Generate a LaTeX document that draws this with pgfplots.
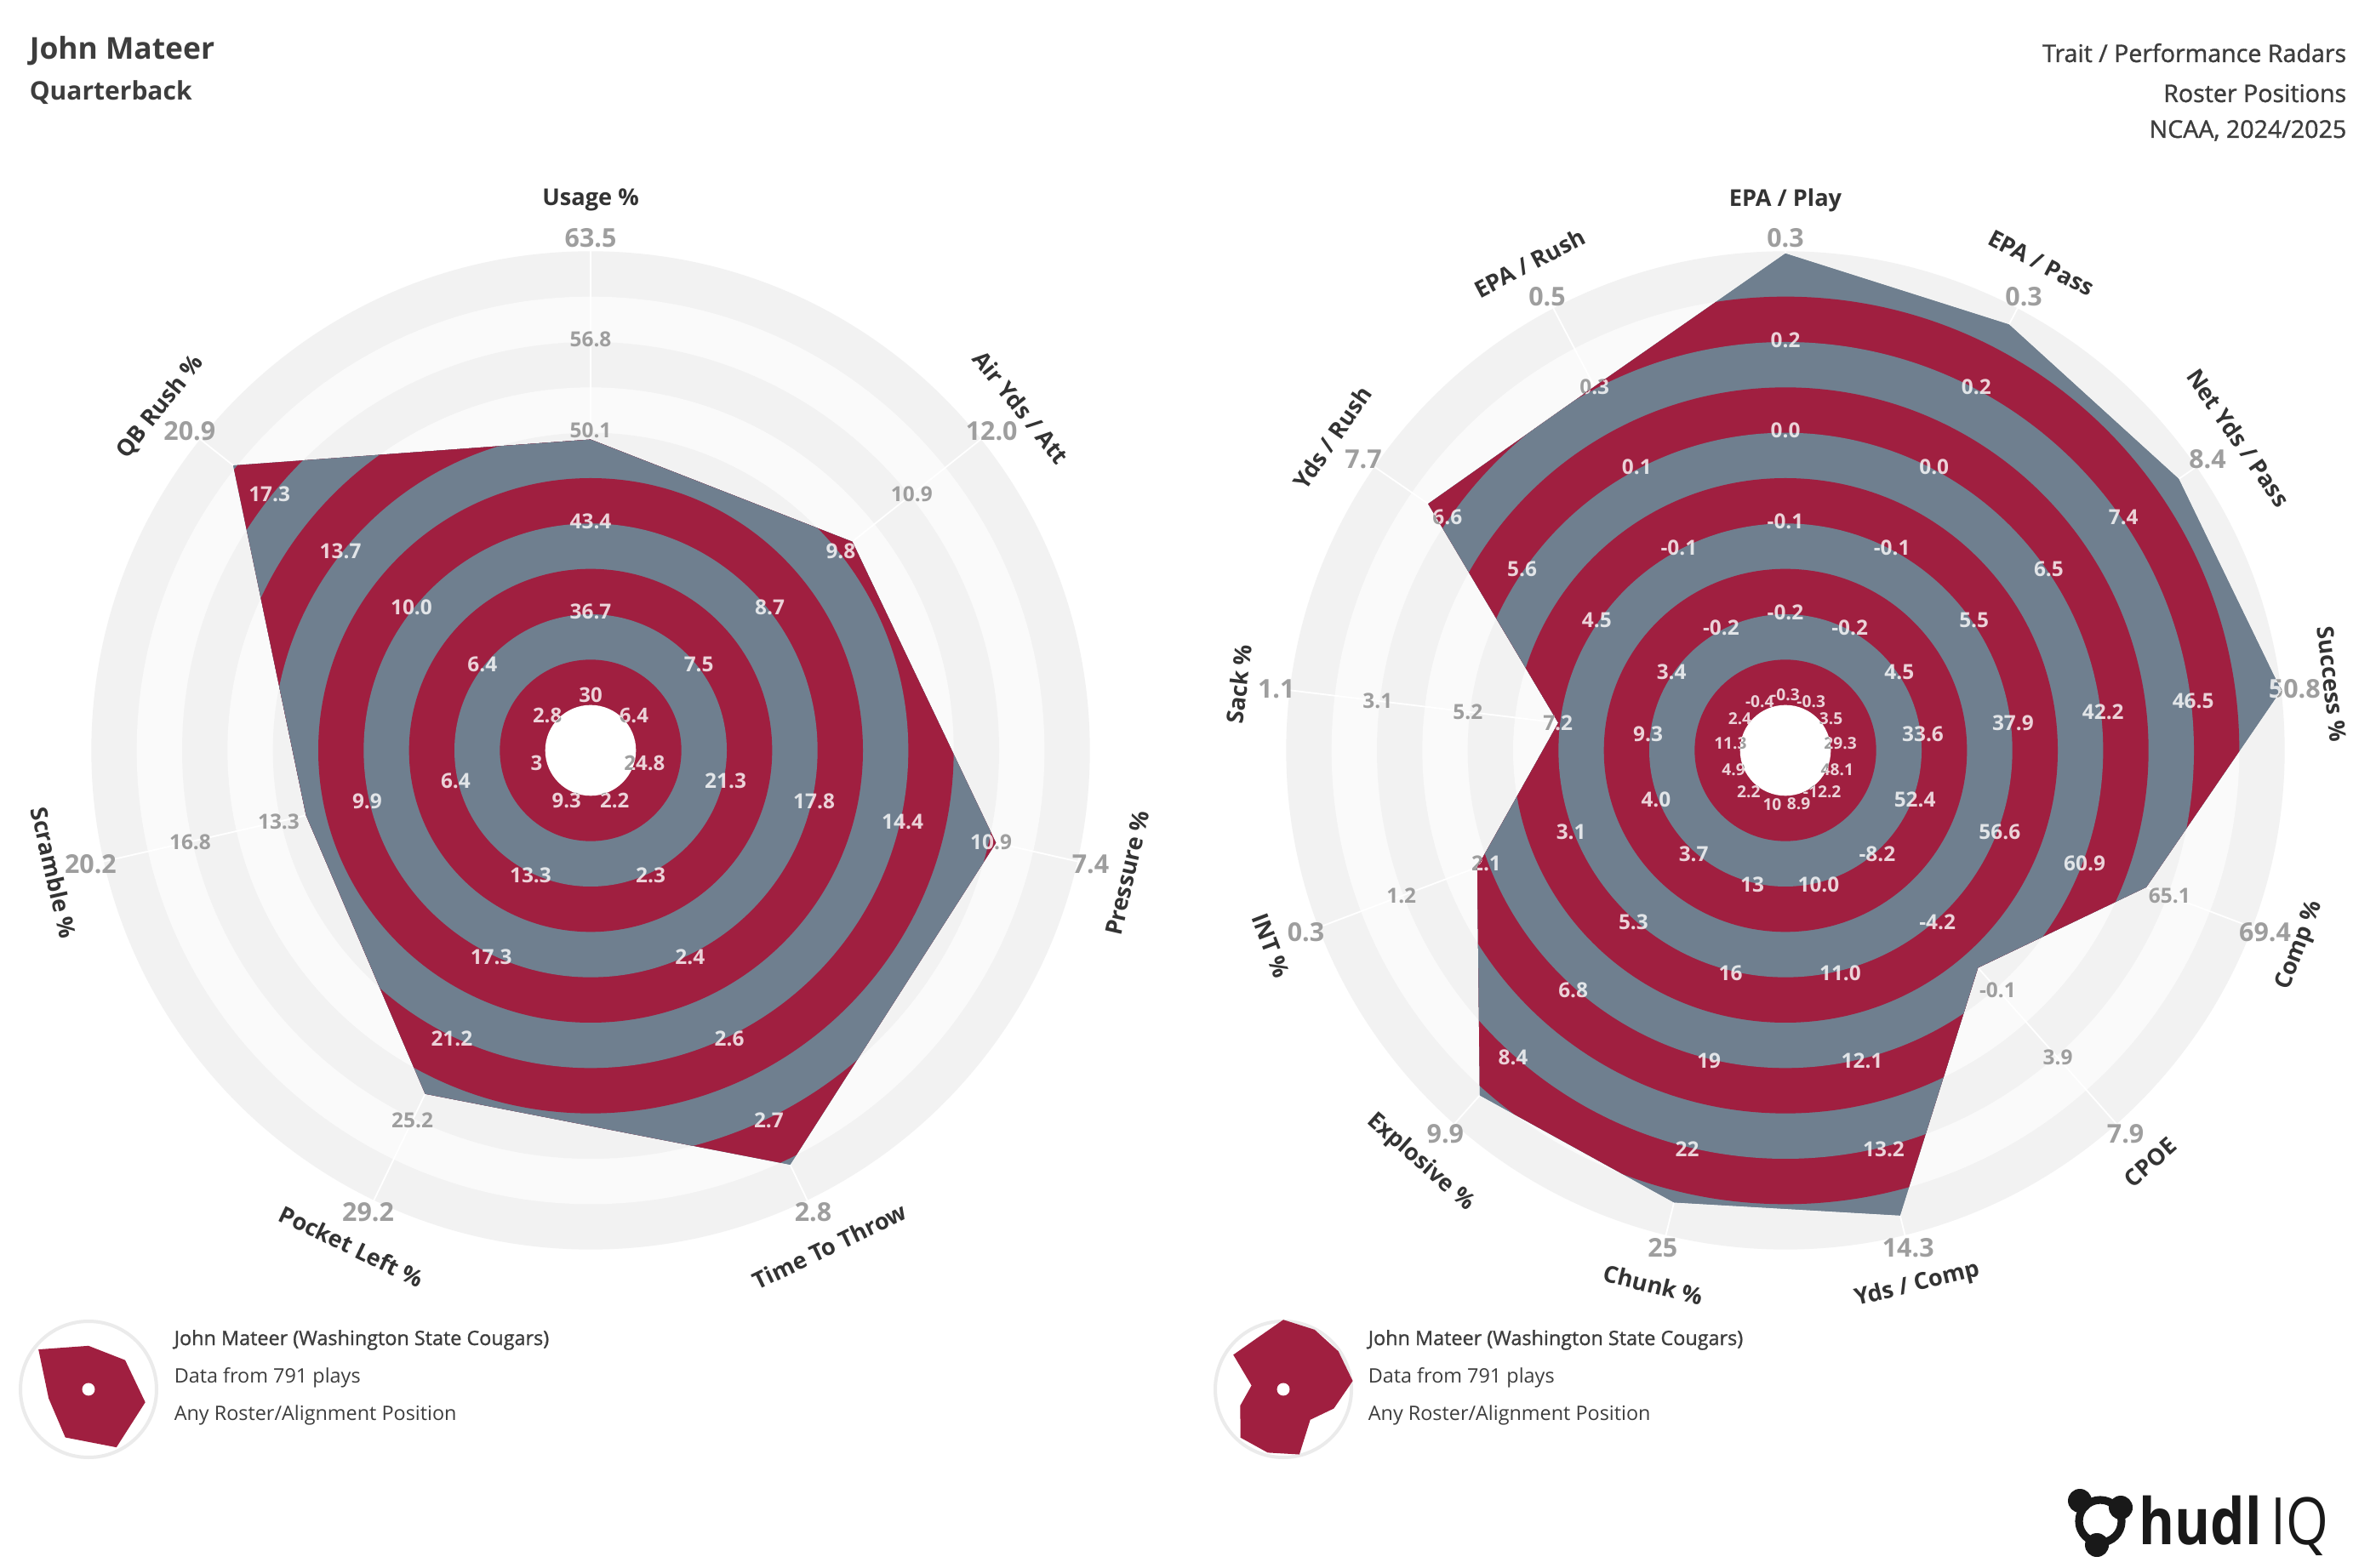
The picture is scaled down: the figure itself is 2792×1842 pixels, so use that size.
\documentclass[border=0pt]{standalone}
\usepackage{pgfplots}
\usepackage{pgfplotstable}
\pgfplotsset{compat=1.18}
\usepackage{fontspec}
\setmainfont{Open Sans}
\newfontfamily\medfont{Open Sans}[FakeBold=1.2]

\definecolor{rred}{HTML}{A01F40}
\definecolor{slate}{HTML}{6F7F8F}
\definecolor{bgA}{HTML}{F2F2F2}
\definecolor{bgB}{HTML}{FAFAFA}
\definecolor{tick}{HTML}{9E9E9E}
\definecolor{ttl}{HTML}{333333}
\definecolor{hdr}{HTML}{3D3D3D}
\definecolor{ring}{HTML}{EBEBEB}

% player values per radial axis: angle, value at inner ring, value at outer ring, player value
\pgfplotstableread{
ang lo hi val
90 30 63.5 49.6
38.571 6.4 12.0 9.97
-12.857 24.8 7.4 10.6
-64.286 2.2 2.8 2.748
-115.714 9.3 29.2 24.03
-167.143 3.0 20.2 12.34
141.429 2.8 20.9 19.22
}\leftdata

\pgfplotstableread{
ang lo hi val
90 -0.3 0.3 0.297
62.308 -0.3 0.3 0.276
34.615 3.5 8.4 8.17
6.923 29.3 50.8 50.8
-20.769 48.1 69.4 64.08
-48.462 -12.2 7.9 -1.35
-76.154 8.9 14.3 14.06
-103.846 10 25 23.89
-131.538 2.2 9.9 9.25
-159.231 4.9 0.3 2.02
173.077 11.3 1.1 7.18
145.385 2.4 7.7 6.94
117.692 -0.4 0.5 0.325
}\rightdata

\def\leftaxes{90/{Usage \%}/30/36.7/43.4/50.1/56.8/63.5,%
38.571/{Air Yds / Att}/6.4/7.5/8.7/9.8/10.9/12.0,%
-12.857/{Pressure \%}/24.8/21.3/17.8/14.4/10.9/7.4,%
-64.286/{Time To Throw}/2.2/2.3/2.4/2.6/2.7/2.8,%
-115.714/{Pocket Left \%}/9.3/13.3/17.3/21.2/25.2/29.2,%
-167.143/{Scramble \%}/3/6.4/9.9/13.3/16.8/20.2,%
141.429/{QB Rush \%}/2.8/6.4/10.0/13.7/17.3/20.9}

\def\rightaxes{90/{EPA / Play}/-0.3/-0.2/-0.1/0.0/0.2/0.3,%
62.308/{EPA / Pass}/-0.3/-0.2/-0.1/0.0/0.2/0.3,%
34.615/{Net Yds / Pass}/3.5/4.5/5.5/6.5/7.4/8.4,%
6.923/{Success \%}/29.3/33.6/37.9/42.2/46.5/50.8,%
-20.769/{Comp \%}/48.1/52.4/56.6/60.9/65.1/69.4,%
-48.462/{CPOE}/-12.2/-8.2/-4.2/-0.1/3.9/7.9,%
-76.154/{Yds / Comp}/8.9/10.0/11.0/12.1/13.2/14.3,%
-103.846/{Chunk \%}/10/13/16/19/22/25,%
-131.538/{Explosive \%}/2.2/3.7/5.3/6.8/8.4/9.9,%
-159.231/{INT \%}/4.9/4.0/3.1/2.1/1.2/0.3,%
173.077/{Sack \%}/11.3/9.3/7.2/5.2/3.1/1.1,%
145.385/{Yds / Rush}/2.4/3.4/4.5/5.6/6.6/7.7,%
117.692/{EPA / Rush}/-0.4/-0.2/-0.1/0.1/0.3/0.5}

% build a clip path from a data table
\newcommand\buildpath[5]{%
  \pgfplotstablegetrowsof{#1}%
  \pgfmathtruncatemacro\lastrow{\pgfplotsretval-1}%
  \gdef#5{}%
  \pgfplotsforeachungrouped \ii in {0,...,\lastrow}{%
    \pgfplotstablegetelem{\ii}{ang}\of{#1}\let\tA\pgfplotsretval
    \pgfplotstablegetelem{\ii}{lo}\of{#1}\let\tL\pgfplotsretval
    \pgfplotstablegetelem{\ii}{hi}\of{#1}\let\tH\pgfplotsretval
    \pgfplotstablegetelem{\ii}{val}\of{#1}\let\tV\pgfplotsretval
    \pgfmathsetmacro\tR{1+10*(\tV-\tL)/(\tH-\tL)}%
    \pgfmathsetmacro\tX{#2+#4*\tR*cos(\tA)}%
    \pgfmathsetmacro\tY{#3+#4*\tR*sin(\tA)}%
    \xdef#5{#5(\tX,\tY)--}%
  }%
}

\newcommand\drawbg[3]{% cx cy spec
  \foreach \k in {11,...,2}{%
    \ifodd\k \def\cc{bgA}\else\def\cc{bgB}\fi
    \fill[\cc] (#1,#2) circle[radius=53.333*\k];
  }%
  \foreach \a/\t/\la/\lb/\lc/\ld/\le/\lf in #3 {%
    \draw[white, line width=0.45pt] (#1,#2) -- ({#1+53.333*11.15*cos(\a)},{#2+53.333*11.15*sin(\a)});
  }%
}

\newcommand\drawstripes[2]{%
  \foreach \k in {11,...,2}{%
    \ifodd\k \def\cc{slate}\else\def\cc{rred}\fi
    \fill[\cc] (#1,#2) circle[radius=53.333*\k];
  }%
}

\newcommand\drawticks[5]{% cx cy spec style innersize
  \foreach \a/\t/\la/\lb/\lc/\ld/\le/\lf in #3 {%
    \foreach \lab [count=\j from 0] in {\la,\lb,\lc,\ld,\le,\lf} {%
      \ifcase\j \def\rr{1.22}\def\fs{#5}\or \def\rr{3.05}\def\fs{6.1}\or
        \def\rr{5.05}\def\fs{6.1}\or \def\rr{7.05}\def\fs{6.1}\or
        \def\rr{9.05}\def\fs{6.1}\else \def\rr{11.3}\def\fs{7.6}\fi
      \node[#4, font=\bfseries\fontsize{\fs}{\fs}\selectfont, inner sep=0pt]
        at ({#1+53.333*\rr*cos(\a)},{#2+53.333*\rr*sin(\a)}) {\lab};
    }%
  }%
}

\newcommand\drawtitles[3]{%
  \foreach \a/\t/\la/\lb/\lc/\ld/\le/\lf in #3 {%
    \pgfmathsetmacro\rot{mod(\a-90+540,360)-180}%
    \pgfmathsetmacro\rot{\rot<-90 ? \rot+180 : (\rot>90 ? \rot-180 : \rot)}%
    \node[rotate=\rot, text=ttl, font=\bfseries\fontsize{6.8}{7}\selectfont, inner sep=0pt]
      at ({#1+53.333*12.13*cos(\a)},{#2+53.333*12.13*sin(\a)}) {\t};
  }%
}

\begin{document}
\buildpath{\leftdata}{694}{960}{53.333}{\leftpath}%
\buildpath{\rightdata}{2098}{960}{53.333}{\rightpath}%
\begin{tikzpicture}
\begin{scope}[x=0.25pt,y=0.25pt]
  \fill[white] (0,0) rectangle (2792,1842);
  \drawbg{694}{960}{\leftaxes}
  \drawbg{2098}{960}{\rightaxes}
  \draw[ring, line width=1pt] (104,209) circle[radius=80];
  \draw[ring, line width=1pt] (1508,209) circle[radius=80];
\end{scope}

\begin{axis}[name=ax, at={(0,0)}, anchor=south west, x=0.25pt, y=0.25pt,
  xmin=0, xmax=2792, ymin=0, ymax=1842, hide axis, clip=false, disabledatascaling]
  \addplot[fill=slate, draw=none] table[
    x expr={694+53.333*(1+10*(\thisrow{val}-\thisrow{lo})/(\thisrow{hi}-\thisrow{lo}))*cos(\thisrow{ang})},
    y expr={960+53.333*(1+10*(\thisrow{val}-\thisrow{lo})/(\thisrow{hi}-\thisrow{lo}))*sin(\thisrow{ang})}]
    {\leftdata} -- cycle;
  \addplot[fill=slate, draw=none] table[
    x expr={2098+53.333*(1+10*(\thisrow{val}-\thisrow{lo})/(\thisrow{hi}-\thisrow{lo}))*cos(\thisrow{ang})},
    y expr={960+53.333*(1+10*(\thisrow{val}-\thisrow{lo})/(\thisrow{hi}-\thisrow{lo}))*sin(\thisrow{ang})}]
    {\rightdata} -- cycle;
  \addplot[fill=rred, draw=none] table[
    x expr={104+7.467*(1+10*(\thisrow{val}-\thisrow{lo})/(\thisrow{hi}-\thisrow{lo}))*cos(\thisrow{ang})},
    y expr={209+7.467*(1+10*(\thisrow{val}-\thisrow{lo})/(\thisrow{hi}-\thisrow{lo}))*sin(\thisrow{ang})}]
    {\leftdata} -- cycle;
  \addplot[fill=rred, draw=none] table[
    x expr={1508+7.467*(1+10*(\thisrow{val}-\thisrow{lo})/(\thisrow{hi}-\thisrow{lo}))*cos(\thisrow{ang})},
    y expr={209+7.467*(1+10*(\thisrow{val}-\thisrow{lo})/(\thisrow{hi}-\thisrow{lo}))*sin(\thisrow{ang})}]
    {\rightdata} -- cycle;
\end{axis}

\begin{scope}[x=0.25pt,y=0.25pt]
  % gray tick labels (covered later inside the polygons)
  \drawticks{694}{960}{\leftaxes}{text=tick}{6}
  \drawticks{2098}{960}{\rightaxes}{text=tick}{4.8}
  % stripes clipped to the polygons
  \begin{scope}
    \clip \leftpath cycle;
    \drawstripes{694}{960}
  \end{scope}
  \begin{scope}
    \clip \rightpath cycle;
    \drawstripes{2098}{960}
  \end{scope}
  % holes
  \fill[white] (694,960) circle[radius=53.333];
  \fill[white] (2098,960) circle[radius=53.333];
  \fill[white] (104,209) circle[radius=7.467];
  \fill[white] (1508,209) circle[radius=7.467];
  \begin{scope}
    \clip (694,960) circle[radius=53.333];
    \drawticks{694}{960}{\leftaxes}{text=tick}{6}
  \end{scope}
  \begin{scope}
    \clip (2098,960) circle[radius=53.333];
    \drawticks{2098}{960}{\rightaxes}{text=tick}{4.8}
  \end{scope}
  % light labels inside polygons
  \begin{scope}[even odd rule]
    \clip \leftpath cycle (694,960) circle[radius=53.333];
    \drawticks{694}{960}{\leftaxes}{text=white, text opacity=0.8}{6}
  \end{scope}
  \begin{scope}[even odd rule]
    \clip \rightpath cycle (2098,960) circle[radius=53.333];
    \drawticks{2098}{960}{\rightaxes}{text=white, text opacity=0.8}{4.8}
  \end{scope}
  % axis titles
  \drawtitles{694}{960}{\leftaxes}
  \drawtitles{2098}{960}{\rightaxes}
  % header
  \node[anchor=base west, inner sep=0pt, text=hdr, font=\bfseries\fontsize{8.85}{10}\selectfont] at (34,1772) {John Mateer};
  \node[anchor=base west, inner sep=0pt, text=hdr, font=\bfseries\fontsize{7.5}{8}\selectfont] at (34,1724) {Quarterback};
  \node[anchor=base east, inner sep=0pt, text=hdr, font=\medfont\fontsize{7.15}{8}\selectfont] at (2758,1769) {Trait / Performance Radars};
  \node[anchor=base east, inner sep=0pt, text=hdr, font=\medfont\fontsize{7.15}{8}\selectfont] at (2758,1722) {Roster Positions};
  \node[anchor=base east, inner sep=0pt, text=hdr, font=\medfont\fontsize{7.15}{8}\selectfont] at (2758,1680) {NCAA, 2024/2025};
  % legends
  \foreach \lx in {204,1607}{
    \node[anchor=base west, inner sep=0pt, text=hdr, font=\medfont\fontsize{5.85}{6}\selectfont] at (\lx,261) {John Mateer (Washington State Cougars)};
    \node[anchor=base west, inner sep=0pt, text=hdr, font=\fontsize{5.85}{6}\selectfont] at (\lx,217) {Data from 791 plays};
    \node[anchor=base west, inner sep=0pt, text=hdr, font=\fontsize{5.85}{6}\selectfont] at (\lx,173) {Any Roster/Alignment Position};
  }
  % logo
  \draw[black!90, line width=2.3pt] (2468,54) circle[radius=25];
  \fill[black!90] (2444,78) circle[radius=14];
  \fill[black!90] (2492,70) circle[radius=14];
  \fill[black!90] (2464,26) circle[radius=14];
  \node[anchor=base west, inner sep=0pt, yscale=1.18, text=black!90, font=\bfseries\fontsize{16}{18}\selectfont] at (2513,27) {hudl};
  \node[anchor=base west, inner sep=0pt, yscale=1.2, text=black!90, font=\fontsize{16}{18}\selectfont] at (2668,27) {IQ};
  \pgfresetboundingbox
  \path[use as bounding box] (0,0) rectangle (2792,1842);
\end{scope}
\end{tikzpicture}
\end{document}
